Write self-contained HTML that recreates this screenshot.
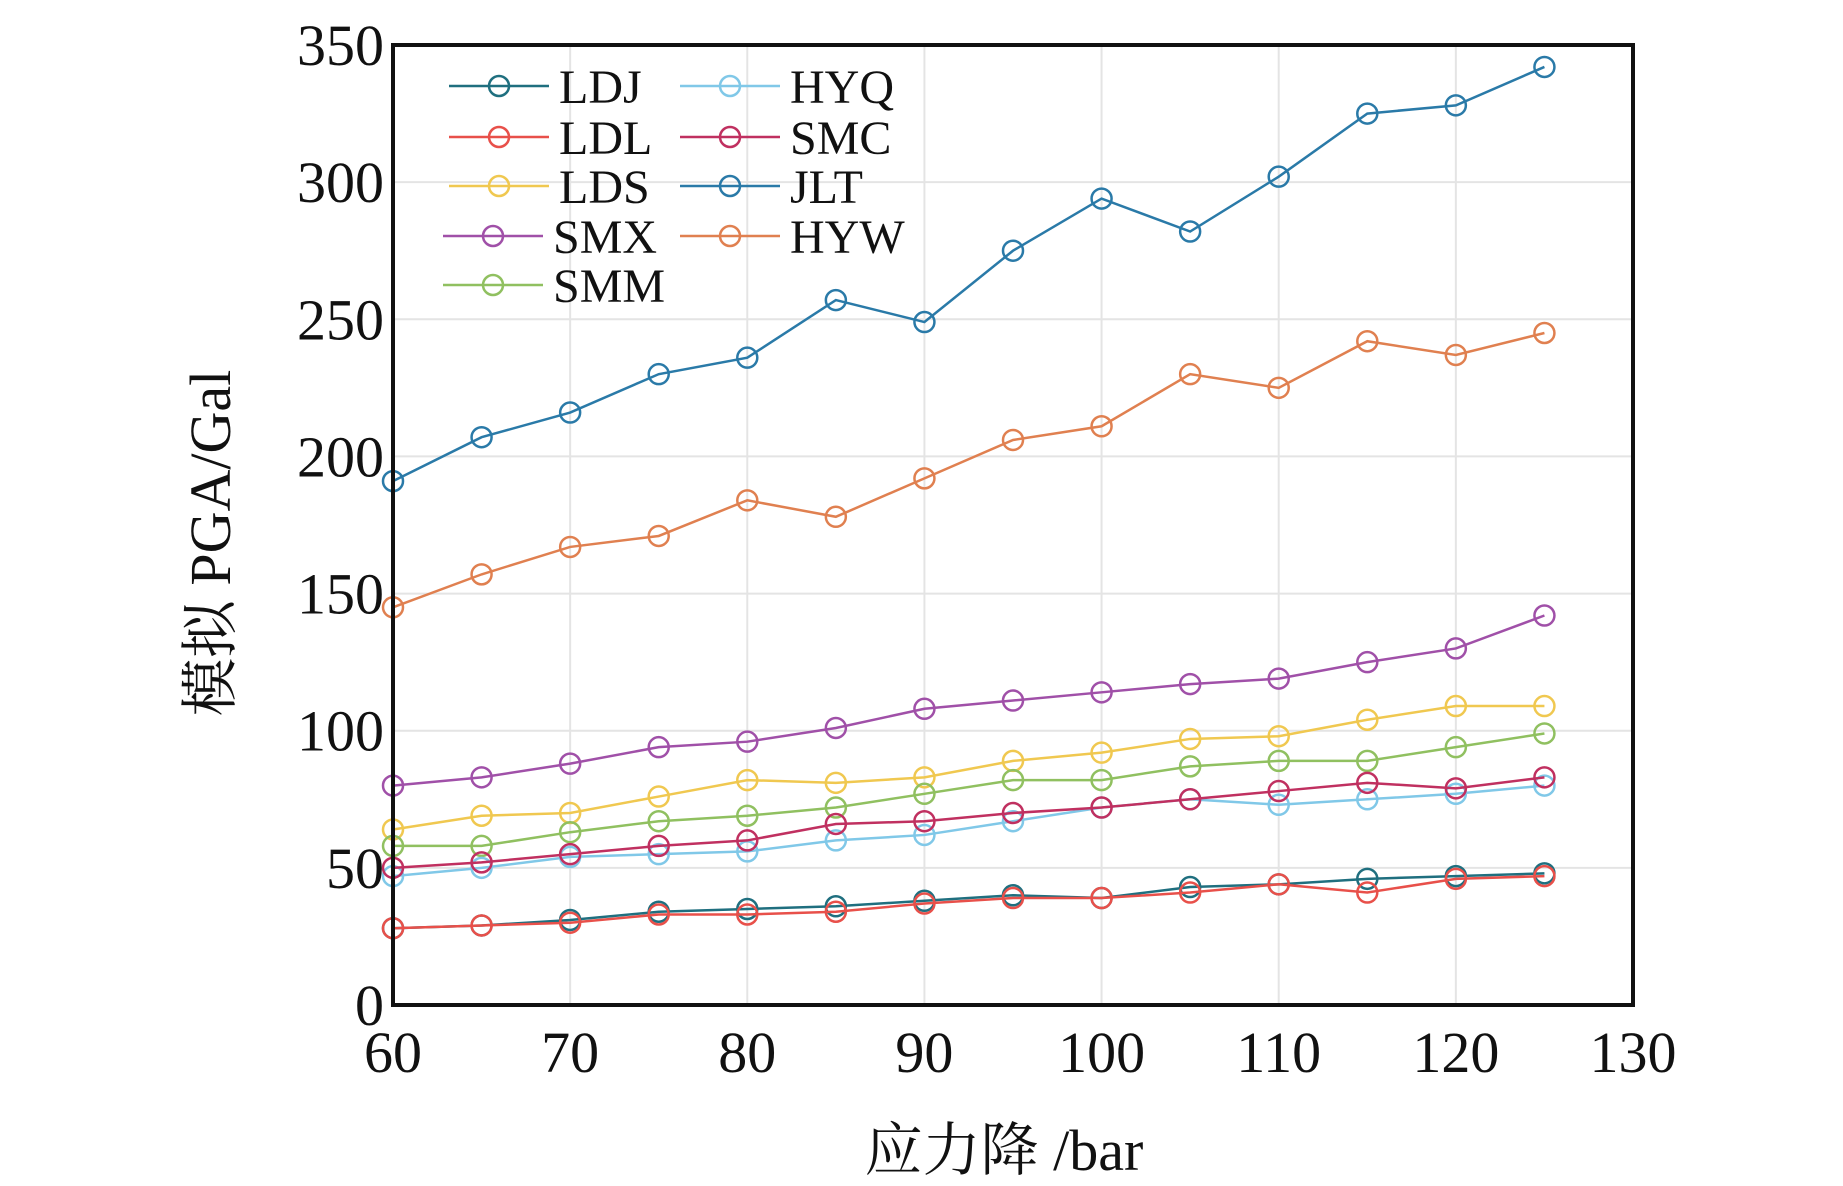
<!DOCTYPE html>
<html><head><meta charset="utf-8"><style>
body{margin:0;background:#fff}
svg text{font-family:"Liberation Serif","Noto Serif CJK SC",serif;fill:#111}
</style></head><body>
<svg id="chart" width="1843" height="1181" viewBox="0 0 1843 1181" xmlns="http://www.w3.org/2000/svg">
<g id="grid"></g>
<g id="series"></g>
<rect x="393" y="45" width="1240" height="960" fill="none" stroke="#111" stroke-width="4"/>
<g id="ticks"></g>
<g id="legend"></g>
<text transform="translate(230,543) rotate(-90)" text-anchor="middle" font-size="58">模拟 PGA/Gal</text>
<text x="1004" y="1170" text-anchor="middle" font-size="58">应力降 /bar</text>
</svg>
<script>
const xs=[60,65,70,75,80,85,90,95,100,105,110,115,120,125];
const names=["LDJ","LDL","LDS","SMX","SMM","HYQ","SMC","JLT","HYW"];
const colors=["#1f6f7f","#e8504a","#f0c850","#a050a8","#90c060","#80c8e8","#c03060","#2a7aa8","#e08050"];
const LDJ=[28,29,31,34,35,36,38,40,39,43,44,46,47,48];
const LDL=[28,29,30,33,33,34,37,39,39,41,44,41,46,47];
const LDS=[64,69,70,76,82,81,83,89,92,97,98,104,109,109];
const SMX=[80,83,88,94,96,101,108,111,114,117,119,125,130,142];
const SMM=[58,58,63,67,69,72,77,82,82,87,89,89,94,99];
const HYQ=[47,50,54,55,56,60,62,67,72,75,73,75,77,80];
const SMC=[50,52,55,58,60,66,67,70,72,75,78,81,79,83];
const JLT=[191,207,216,230,236,257,249,275,294,282,302,325,328,342];
const HYW=[145,157,167,171,184,178,192,206,211,230,225,242,237,245];
const values=[LDJ,LDL,LDS,SMX,SMM,HYQ,SMC,JLT,HYW];
const xTicks=[60,70,80,90,100,110,120,130];
const yTicks=[0,50,100,150,200,250,300,350];
const NS="http://www.w3.org/2000/svg";
const X=v=>393+(v-60)/70*1240;
const Y=v=>1005-v/350*960;
function mk(tag,attrs,parent){const e=document.createElementNS(NS,tag);for(const k in attrs)e.setAttribute(k,attrs[k]);parent.appendChild(e);return e;}
const grid=document.getElementById('grid'),ticks=document.getElementById('ticks'),ser=document.getElementById('series'),leg=document.getElementById('legend');
xTicks.forEach(t=>{
 const l=mk('line',{x1:X(t),x2:X(t),y1:45,y2:1005,stroke:'#e4e4e4','stroke-width':2},grid);
 
 
 const tx=mk('text',{x:X(t),y:1072,'text-anchor':'middle','font-size':58},ticks);
 tx.textContent=t;
 
 
});
yTicks.forEach(t=>{
 const l=mk('line',{x1:393,x2:1633,y1:Y(t),y2:Y(t),stroke:'#e4e4e4','stroke-width':2},grid);
 
 
 const tx=mk('text',{x:384,y:Y(t)+20,'text-anchor':'end','font-size':58},ticks);
 tx.textContent=t;
 
 
});
values.forEach((vals,i)=>{
 const g=mk('g',{},ser);
 
 
 const pts=vals.map((v,j)=>X(xs[j])+','+Y(v)).join(' ');
 const pl=mk('polyline',{points:pts,fill:'none',stroke:colors[i],'stroke-width':2.5},g);
 
 
 vals.forEach((v,j)=>{
  const c=mk('circle',{cx:X(xs[j]),cy:Y(v),r:10,fill:'none',stroke:colors[i],'stroke-width':2.5},g);
  
  
 });
});
const legPos=[[449,86],[449,137],[449,186],[443,236],[443,285],[680,86],[680,137],[680,186],[680,236]];
names.forEach((n,i)=>{
 const [lx,ly]=legPos[i];
 const g=mk('g',{},leg);
 
 
 mk('line',{x1:lx,x2:lx+100,y1:ly,y2:ly,stroke:colors[i],'stroke-width':2.5},g);
 mk('circle',{cx:lx+50,cy:ly,r:10,fill:'none',stroke:colors[i],'stroke-width':2.5},g);
 const t=mk('text',{x:lx+110,y:ly+17,'font-size':48},g);
 t.textContent=n;
});
</script>
</body></html>
